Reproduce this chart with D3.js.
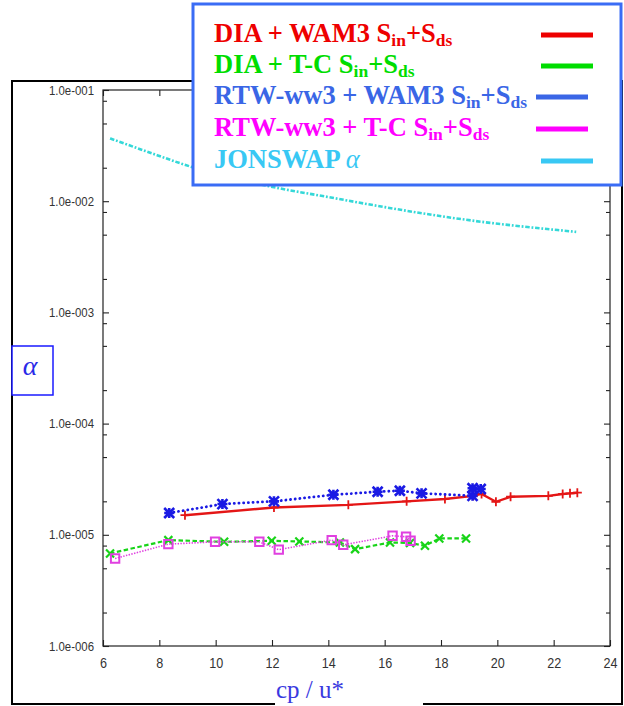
<!DOCTYPE html>
<html>
<head>
<meta charset="utf-8">
<script src="https://cdn.jsdelivr.net/npm/d3@7"></script>
<style>
  body { margin: 0; background: #fff; }
  svg { display: block; }
</style>
</head>
<body>
<svg id="chart" width="624" height="706"></svg>
<script>
// Spectral level alpha versus inverse wave age cp/u*, four model runs + JONSWAP fit

// DIA + WAM3 Sin+Sds
const diaWamX = [8.91, 12.07, 14.71, 16.78, 18.14, 19.15, 19.44, 19.95, 20.47, 21.81, 22.32, 22.58, 22.84];
const diaWamA = [1.50e-5, 1.76e-5, 1.86e-5, 2.00e-5, 2.10e-5, 2.24e-5, 2.33e-5, 1.98e-5, 2.20e-5, 2.24e-5, 2.33e-5, 2.36e-5, 2.39e-5];

// DIA + T-C Sin+Sds
const diaTcX = [6.25, 8.32, 10.30, 11.99, 12.97, 14.41, 14.95, 16.19, 16.90, 17.43, 17.94, 18.89];
const diaTcA = [6.79e-6, 8.96e-6, 8.65e-6, 8.83e-6, 8.71e-6, 8.53e-6, 7.43e-6, 8.53e-6, 8.45e-6, 7.96e-6, 9.27e-6, 9.27e-6];

// RTW-ww3 + WAM3 Sin+Sds
const rtwWamX = [8.35, 10.24, 12.07, 14.18, 15.75, 16.54, 17.31, 19.12, 19.12, 19.41];
const rtwWamA = [1.57e-5, 1.89e-5, 2.00e-5, 2.29e-5, 2.44e-5, 2.49e-5, 2.36e-5, 2.24e-5, 2.62e-5, 2.58e-5];

// RTW-ww3 + T-C Sin+Sds
const rtwTcX = [6.43, 8.32, 9.98, 11.55, 12.24, 14.12, 14.53, 16.28, 16.76, 16.92];
const rtwTcA = [6.12e-6, 8.24e-6, 8.65e-6, 8.65e-6, 7.35e-6, 8.96e-6, 8.13e-6, 9.80e-6, 9.60e-6, 8.83e-6];

// JONSWAP alpha
const jonX = [6.25, 7.5, 9.1, 12.3, 14.0, 15.4, 18.9, 22.8];
const jonA = [0.0367, 0.0283, 0.0205, 0.0130, 0.0109, 0.0094, 0.0068, 0.0053];

// Axis ticks
const xTicks = [6, 8, 10, 12, 14, 16, 18, 20, 22, 24];
const yMajor = [1e-1, 1e-2, 1e-3, 1e-4, 1e-5, 1e-6];
const yMinorMult = [2, 5, 8];
const yLabels = ["1.0e-001", "1.0e-002", "1.0e-003", "1.0e-004", "1.0e-005", "1.0e-006"];
const xLabels = ["6", "8", "10", "12", "14", "16", "18", "20", "22", "24"];

const legendNames = ["DIA + WAM3 ", "DIA + T-C ", "RTW-ww3 + WAM3 ", "RTW-ww3 + T-C ", "JONSWAP "];

const svg = d3.select("#chart");
const plot = { left: 103, right: 610, top: 90, bottom: 646 };

const x = d3.scaleLinear().domain([6, 24]).range([plot.left, plot.right]);
const y = d3.scaleLog().domain([1e-6, 1e-1]).range([plot.bottom, plot.top]);

svg.append("rect").attr("width", 624).attr("height", 706).attr("fill", "#fff");

// outer frame
svg.append("rect")
  .attr("x", 12).attr("y", 81).attr("width", 610).attr("height", 623)
  .attr("fill", "none").attr("stroke", "#000").attr("stroke-width", 2);

// plot box
svg.append("rect")
  .attr("x", plot.left).attr("y", plot.top)
  .attr("width", plot.right - plot.left).attr("height", plot.bottom - plot.top)
  .attr("fill", "#fff").attr("stroke", "#222").attr("stroke-width", 1.2);

const yMinor = [];
yMajor.forEach(d => { if (d < 1e-1) yMinorMult.forEach(m => yMinor.push(d * m)); });

function styleAxis(g) {
  g.select(".domain").remove();
  g.selectAll(".tick line").attr("stroke", "#222").attr("stroke-width", 1.1);
}

// left axis with labels
const yLabelMap = new Map(yMajor.map((d, i) => [d, yLabels[i]]));
const gLeft = svg.append("g").attr("transform", `translate(${plot.left},0)`)
  .call(d3.axisLeft(y).tickValues(yMajor).tickSizeInner(-6).tickSizeOuter(0).tickPadding(9)
    .tickFormat(d => yLabelMap.get(d)));
styleAxis(gLeft);
gLeft.selectAll(".tick text")
  .attr("font-family", "'Liberation Sans', Arial, sans-serif")
  .attr("font-size", 13).attr("fill", "#333")
  .attr("textLength", 45).attr("lengthAdjust", "spacingAndGlyphs");
svg.append("g").attr("transform", `translate(${plot.left},0)`)
  .call(d3.axisLeft(y).tickValues(yMinor).tickSizeInner(-4).tickSizeOuter(0).tickFormat(""))
  .call(styleAxis);

// right axis mirror ticks
svg.append("g").attr("transform", `translate(${plot.right},0)`)
  .call(d3.axisRight(y).tickValues(yMajor).tickSizeInner(-6).tickSizeOuter(0).tickFormat(""))
  .call(styleAxis);
svg.append("g").attr("transform", `translate(${plot.right},0)`)
  .call(d3.axisRight(y).tickValues(yMinor).tickSizeInner(-4).tickSizeOuter(0).tickFormat(""))
  .call(styleAxis);

// bottom axis with labels
const xLabelMap = new Map(xTicks.map((d, i) => [d, xLabels[i]]));
const gBottom = svg.append("g").attr("transform", `translate(0,${plot.bottom})`)
  .call(d3.axisBottom(x).tickValues(xTicks).tickSizeInner(-6).tickSizeOuter(0).tickPadding(11)
    .tickFormat(d => xLabelMap.get(d)));
styleAxis(gBottom);
gBottom.selectAll(".tick text")
  .attr("font-family", "'Liberation Sans', Arial, sans-serif")
  .attr("font-size", 15).attr("fill", "#333")
  .attr("textLength", d => xLabelMap.get(d).length * 7)
  .attr("lengthAdjust", "spacingAndGlyphs");

// top axis ticks
svg.append("g").attr("transform", `translate(0,${plot.top})`)
  .call(d3.axisTop(x).tickValues(xTicks).tickSizeInner(-6).tickSizeOuter(0).tickFormat(""))
  .call(styleAxis);

// marker shapes (centred at 0,0)
const markers = {
  plus: s => `M${-s},0H${s}M0,${-s}V${s}`,
  times: s => `M${-s},${-s}L${s},${s}M${-s},${s}L${s},${-s}`,
  star: s => `M${-s},0H${s}M0,${-s}V${s}M${-s},${-s}L${s},${s}M${-s},${s}L${s},${-s}`,
  square: s => `M${-s},${-s}H${s}V${s}H${-s}Z`
};

const series = [
  { xs: diaWamX, ys: diaWamA, color: "#e41616", width: 2.4, dash: null, cap: "butt", marker: "plus", ms: 4.5, mw: 1.8 },
  { xs: diaTcX, ys: diaTcA, color: "#18d418", width: 2.2, dash: "4.5,2.5", cap: "butt", marker: "times", ms: 4, mw: 2.2 },
  { xs: rtwWamX, ys: rtwWamA, color: "#1a1ae4", width: 2.8, dash: "0.1,4.6", cap: "round", marker: "star", ms: 5, mw: 2.6 },
  { xs: rtwTcX, ys: rtwTcA, color: "#e040e0", width: 1.6, dash: "1.4,1.4", cap: "butt", marker: "square", ms: 4.2, mw: 2 }
];

const line = d3.line().x(d => x(d[0])).y(d => y(d[1]));

// JONSWAP curve
const jonPts = jonX.map((v, i) => [v, jonA[i]]);
svg.append("path")
  .attr("d", d3.line().x(d => x(d[0])).y(d => y(d[1])).curve(d3.curveMonotoneX)(jonPts))
  .attr("fill", "none").attr("stroke", "#34d8d8").attr("stroke-width", 2.6)
  .attr("stroke-dasharray", "4.5,1.8,1.8,1.8");

series.forEach(s => {
  const pts = s.xs.map((v, i) => [v, s.ys[i]]);
  svg.append("path")
    .attr("d", line(pts))
    .attr("fill", "none").attr("stroke", s.color).attr("stroke-width", s.width)
    .attr("stroke-dasharray", s.dash)
    .attr("stroke-linecap", s.cap);
  svg.append("g").selectAll("path").data(pts).join("path")
    .attr("transform", d => `translate(${x(d[0])},${y(d[1])})`)
    .attr("d", markers[s.marker](s.ms))
    .attr("fill", "none").attr("stroke", s.color).attr("stroke-width", s.mw);
});

// x-axis title on a white patch over the frame
svg.append("rect").attr("x", 275).attr("y", 676).attr("width", 148).attr("height", 30).attr("fill", "#fff");
svg.append("text")
  .attr("x", 276).attr("y", 698)
  .attr("font-family", "'Liberation Serif', 'Times New Roman', serif")
  .attr("font-size", 25).attr("fill", "#3a3ae0")
  .text("cp / u*");

// y-axis title box
svg.append("rect").attr("x", 12).attr("y", 346).attr("width", 41).attr("height", 49)
  .attr("fill", "#fff").attr("stroke", "#1a1aff").attr("stroke-width", 1.5);
svg.append("text")
  .attr("x", 30).attr("y", 375).attr("text-anchor", "middle")
  .attr("font-family", "'Liberation Serif', 'Times New Roman', serif")
  .attr("font-style", "italic").attr("font-size", 28).attr("fill", "#2a2ae8")
  .text("α");

// legend
const legendColors = ["#ee0000", "#00dd00", "#3a66e6", "#ff00ff", "#38c8f4"];
const legendBase = [42, 73, 104, 136, 168];
const legendLine = [[541, 593], [541, 593], [536, 588], [536, 588], [541, 593]];

svg.append("rect").attr("x", 193).attr("y", 4).attr("width", 428).attr("height", 181)
  .attr("fill", "#fff").attr("stroke", "#3a6cf5").attr("stroke-width", 3);

legendNames.forEach((name, i) => {
  const t = svg.append("text")
    .attr("x", 214).attr("y", legendBase[i])
    .attr("font-family", "'Liberation Serif', 'Times New Roman', serif")
    .attr("font-weight", "bold").attr("font-size", 26.5).attr("fill", legendColors[i]);
  t.append("tspan").text(name);
  if (i < 4) {
    t.append("tspan").text("S");
    t.append("tspan").attr("font-size", 17.5).attr("dy", 4).text("in");
    t.append("tspan").attr("dy", -4).text("+S");
    t.append("tspan").attr("font-size", 17.5).attr("dy", 4).text("ds");
  } else {
    t.append("tspan").attr("font-style", "italic").attr("font-weight", "normal").text("α");
  }
  svg.append("line")
    .attr("x1", legendLine[i][0]).attr("x2", legendLine[i][1])
    .attr("y1", legendBase[i] - 7).attr("y2", legendBase[i] - 7)
    .attr("stroke", legendColors[i]).attr("stroke-width", 5);
});
</script>
</body>
</html>
